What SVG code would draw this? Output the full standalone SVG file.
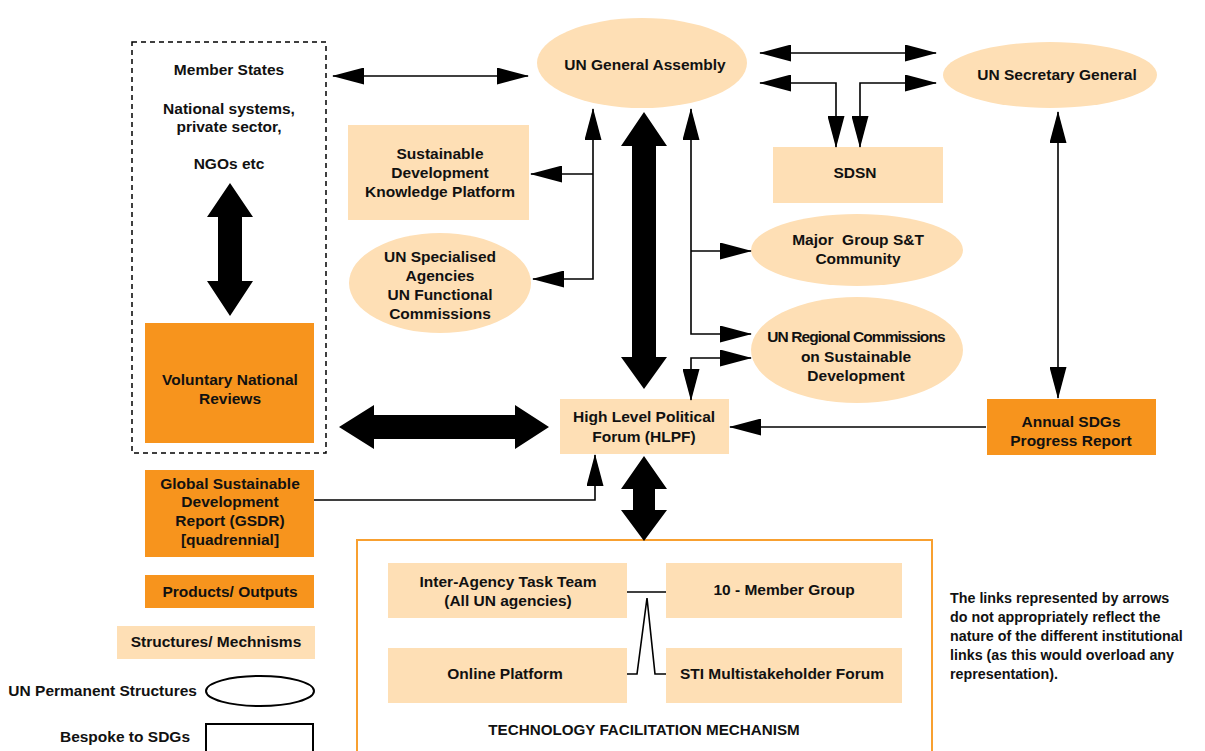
<svg xmlns="http://www.w3.org/2000/svg" width="1205" height="751" viewBox="0 0 1205 751">
<defs>
<style>
.t{font-family:"Liberation Sans",Arial,sans-serif;font-weight:bold;font-size:15.5px;fill:#111;text-anchor:middle}
.n{font-family:"Liberation Sans",Arial,sans-serif;font-weight:bold;font-size:14.3px;fill:#111}
.lt{fill:#FEDFB5}
.or{fill:#F7941D}
.c{fill:none;stroke:#000;stroke-width:1.6}
.fat{fill:#000}
</style>
<marker id="ah" markerUnits="userSpaceOnUse" markerWidth="32" markerHeight="17" refX="31" refY="8.5" orient="auto-start-reverse" viewBox="0 0 32 17">
<path d="M0,0 L32,8.5 L0,17 z" fill="#000"/>
</marker>
</defs>
<rect width="1205" height="751" fill="#fff"/>

<g id="member-states">
<rect x="132" y="42" width="194" height="411" fill="none" stroke="#000" stroke-width="1.5" stroke-dasharray="5,4"/>
<text class="t" x="229" y="75">Member States</text>
<text class="t" x="229" y="114">National systems,</text>
<text class="t" x="229" y="132">private sector,</text>
<text class="t" x="229" y="169">NGOs etc</text>
</g>
<g id="vnr">
<rect class="or" x="145" y="323" width="169" height="120"/>
<text class="t" x="230" y="385">Voluntary National</text>
<text class="t" x="230" y="404">Reviews</text>
</g>
<g id="unga">
<ellipse class="lt" cx="642" cy="63" rx="105" ry="45"/>
<text class="t" x="645" y="70">UN General Assembly</text>
</g>
<g id="unsg">
<ellipse class="lt" cx="1050" cy="75" rx="107" ry="33"/>
<text class="t" x="1057" y="80">UN Secretary General</text>
</g>
<g id="sdsn">
<rect class="lt" x="773" y="147" width="170" height="56"/>
<text class="t" x="855" y="178">SDSN</text>
</g>
<g id="sdkp">
<rect class="lt" x="348" y="125" width="181" height="95"/>
<text class="t" x="440" y="159">Sustainable</text>
<text class="t" x="440" y="178">Development</text>
<text class="t" x="440" y="197">Knowledge Platform</text>
</g>
<g id="unsa">
<ellipse class="lt" cx="440" cy="283" rx="91" ry="50"/>
<text class="t" x="440" y="262">UN Specialised</text>
<text class="t" x="440" y="281">Agencies</text>
<text class="t" x="440" y="300">UN Functional</text>
<text class="t" x="440" y="319">Commissions</text>
</g>
<g id="major-group">
<ellipse class="lt" cx="857" cy="250" rx="106" ry="36"/>
<text class="t" x="858" y="245" xml:space="preserve">Major  Group S&amp;T</text>
<text class="t" x="858" y="264">Community</text>
</g>
<g id="regional">
<ellipse class="lt" cx="857" cy="350" rx="106" ry="53"/>
<text class="t" x="856" y="342" letter-spacing="-0.9">UN Regional Commissions</text>
<text class="t" x="856" y="362">on Sustainable</text>
<text class="t" x="856" y="381">Development</text>
</g>
<g id="hlpf">
<rect class="lt" x="560" y="399" width="169" height="55"/>
<text class="t" x="644" y="422">High Level Political</text>
<text class="t" x="644" y="442">Forum (HLPF)</text>
</g>
<g id="annual">
<rect class="or" x="987" y="399" width="169" height="56"/>
<text class="t" x="1071" y="427">Annual SDGs</text>
<text class="t" x="1071" y="446">Progress Report</text>
</g>
<g id="gsdr">
<rect class="or" x="145" y="470" width="169" height="87"/>
<text class="t" x="230" y="489">Global Sustainable</text>
<text class="t" x="230" y="507">Development</text>
<text class="t" x="230" y="526">Report (GSDR)</text>
<text class="t" x="230" y="545">[quadrennial]</text>
</g>
<g id="tfm">
<rect x="357" y="540" width="575" height="220" fill="none" stroke="#F8A030" stroke-width="2"/>
<text class="t" x="644" y="735" style="font-size:15.2px">TECHNOLOGY FACILITATION MECHANISM</text>
</g>
<g id="iatt">
<rect class="lt" x="388" y="563" width="239" height="55"/>
<text class="t" x="508" y="587">Inter-Agency Task Team</text>
<text class="t" x="508" y="606">(All UN agencies)</text>
</g>
<g id="ten-member">
<rect class="lt" x="666" y="563" width="236" height="55"/>
<text class="t" x="784" y="595">10 - Member Group</text>
</g>
<g id="online">
<rect class="lt" x="388" y="648" width="239" height="55"/>
<text class="t" x="505" y="679">Online Platform</text>
</g>
<g id="sti">
<rect class="lt" x="666" y="648" width="236" height="55"/>
<text class="t" x="782" y="679">STI Multistakeholder Forum</text>
</g>
<g id="legend">
<rect class="or" x="145" y="575" width="169" height="33"/>
<text class="t" x="230" y="597">Products/ Outputs</text>
<rect class="lt" x="117" y="626" width="198" height="33"/>
<text class="t" x="216" y="647">Structures/ Mechnisms</text>
<text class="t" x="197" y="696" style="text-anchor:end">UN Permanent Structures</text>
<ellipse cx="260" cy="691" rx="54" ry="15" fill="none" stroke="#000" stroke-width="2"/>
<text class="t" x="190" y="742" style="text-anchor:end">Bespoke to SDGs</text>
<rect x="206" y="724" width="107" height="40" fill="none" stroke="#000" stroke-width="2"/>
</g>
<g id="note">
<text class="n" x="950" y="603">The links represented by arrows</text>
<text class="n" x="950" y="622">do not appropriately reflect the</text>
<text class="n" x="950" y="641">nature of the different institutional</text>
<text class="n" x="950" y="660">links (as this would overload any</text>
<text class="n" x="950" y="679">representation).</text>
</g>

<g id="connectors">
<path class="c" d="M333,76 L528,76" marker-start="url(#ah)" marker-end="url(#ah)"/>
<path class="c" d="M760,53 L936,53" marker-start="url(#ah)" marker-end="url(#ah)"/>
<path class="c" d="M836,147 L836,83 L760,83" marker-start="url(#ah)" marker-end="url(#ah)"/>
<path class="c" d="M860,147 L860,83 L936,83" marker-start="url(#ah)" marker-end="url(#ah)"/>
<path class="c" d="M593,109 L593,279 L533,279" marker-start="url(#ah)" marker-end="url(#ah)"/>
<path class="c" d="M593,174 L531,174" marker-end="url(#ah)"/>
<path class="c" d="M691,109 L691,334 L751,334" marker-start="url(#ah)" marker-end="url(#ah)"/>
<path class="c" d="M691,251 L751,251" marker-end="url(#ah)"/>
<path class="c" d="M691,400 L691,358 L751,358" marker-start="url(#ah)" marker-end="url(#ah)"/>
<path class="c" d="M1058,112 L1058,398" marker-start="url(#ah)" marker-end="url(#ah)"/>
<path class="c" d="M986,427 L730,427" marker-end="url(#ah)"/>
<path class="c" d="M314,500 L595,500 L595,455" marker-end="url(#ah)"/>
<path class="c" d="M627,592 L666,592"/>
<path class="c" d="M627,674 L637,674 L647,598 L655,674 L666,674"/>
<polygon class="fat" points="230,183 253,217 242,217 242,281 253,281 230,316 207,281 218,281 218,217 207,217"/>
<polygon class="fat" points="339,427 374,405 374,415 515,415 515,405 549,427 515,449 515,439 374,439 374,449"/>
<polygon class="fat" points="644,112 667,146 656,146 656,357 667,357 644,389 621,357 632,357 632,146 621,146"/>
<polygon class="fat" points="644,456 667,489 655,489 655,510 667,510 644,541 621,510 633,510 633,489 621,489"/>
</g>
</svg>
